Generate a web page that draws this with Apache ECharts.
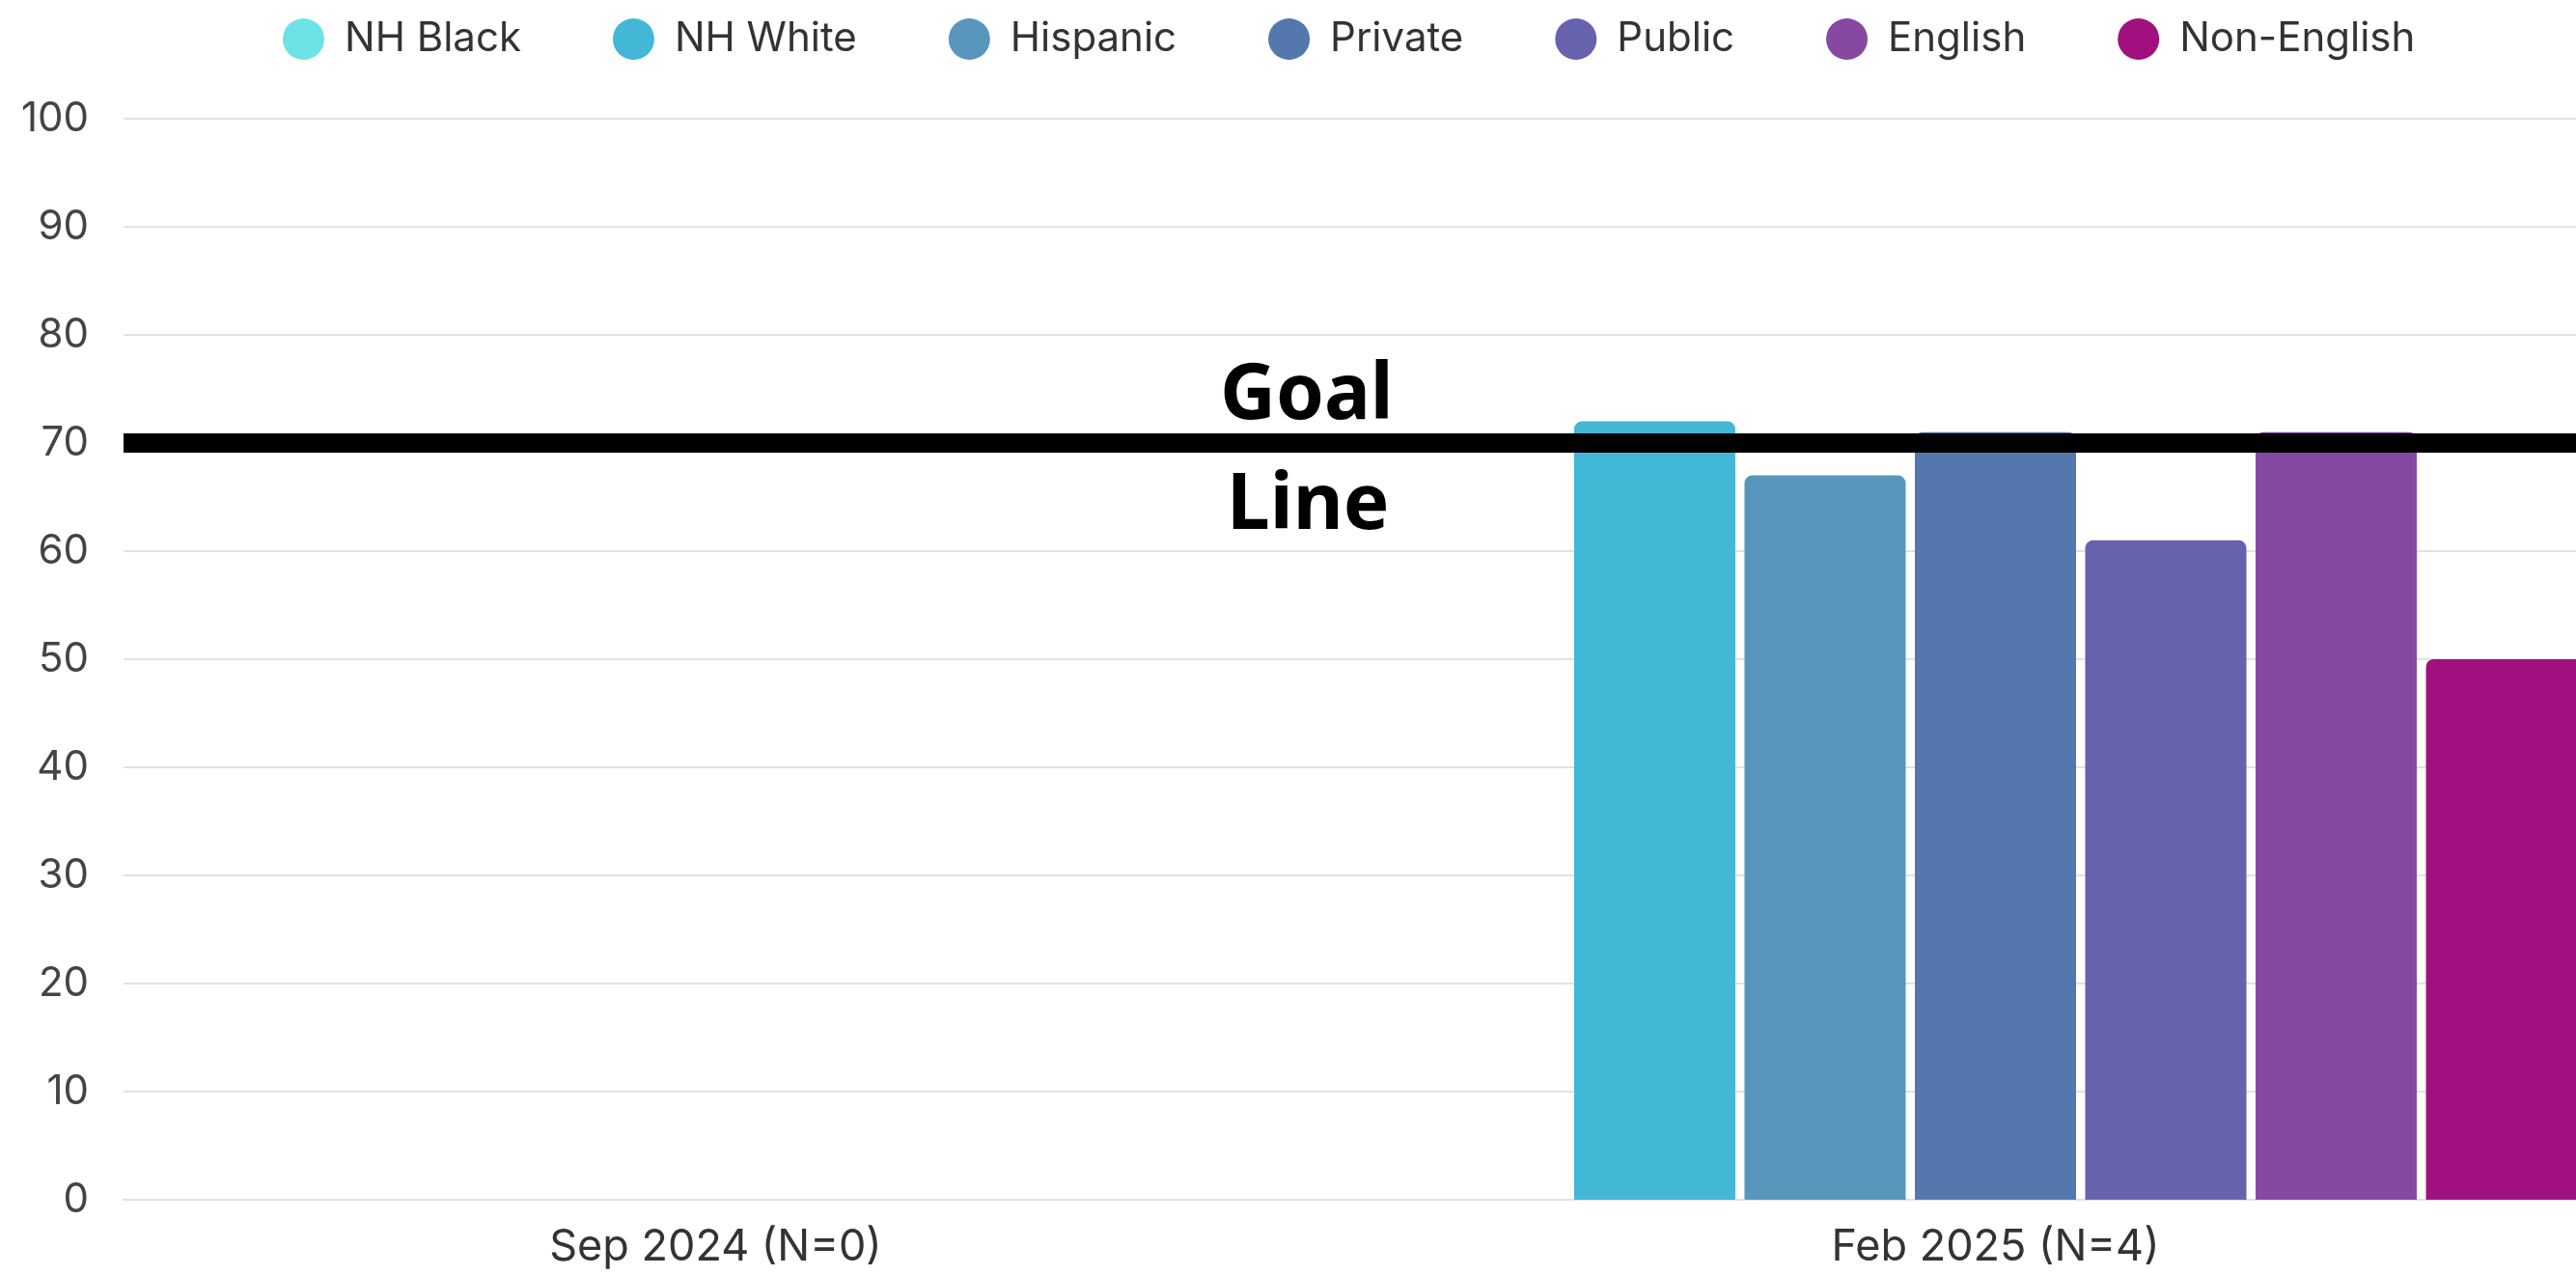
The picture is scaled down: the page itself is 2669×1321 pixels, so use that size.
<!DOCTYPE html>
<html>
<head>
<meta charset="utf-8">
<style>
  html, body { margin: 0; padding: 0; background: #ffffff; }
  #chart { width: 2669px; height: 1321px; }
</style>
<script src="https://cdn.jsdelivr.net/npm/echarts@6/dist/echarts.min.js"></script>
</head>
<body>
<div id="chart"></div>
<script>
// Survey waves on the x axis
const categories = ['Sep 2024 (N=0)', 'Feb 2025 (N=4)'];

// Percent per group and wave (null = no respondents)
const nhBlack    = [null, null];
const nhWhite    = [null, 72];
const hispanic   = [null, 67];
const privateIns = [null, 71];
const publicIns  = [null, 61];
const english    = [null, 71];
const nonEnglish = [null, 50];

const goalValue = 70;
const yTicks = { min: 0, max: 100, interval: 10 };

const seriesDefs = [
  { name: 'NH Black',    data: nhBlack,    color: '#6DE2E7' },
  { name: 'NH White',    data: nhWhite,    color: '#42B7D6' },
  { name: 'Hispanic',    data: hispanic,   color: '#5896BC' },
  { name: 'Private',     data: privateIns, color: '#5478AE' },
  { name: 'Public',      data: publicIns,  color: '#6762AD' },
  { name: 'English',     data: english,    color: '#8549A2' },
  { name: 'Non-English', data: nonEnglish, color: '#A0107E' }
];

const FONT = 'Inter, "Noto Sans", sans-serif';

const series = seriesDefs.map((s, i) => {
  const item = {
    name: s.name,
    type: 'bar',
    data: s.data,
    barWidth: 167,
    barGap: '5.7%',
    itemStyle: { color: s.color, borderRadius: [8, 8, 0, 0] }
  };
  if (i === seriesDefs.length - 1) {
    item.markLine = {
      silent: true,
      symbol: 'none',
      z: 10,
      lineStyle: { color: '#000000', width: 20, type: 'solid' },
      label: {
        fontFamily: '"Noto Sans", sans-serif',
        fontWeight: 'bold',
        fontSize: 80,
        lineHeight: 80,
        color: '#000000'
      },
      data: [
        { yAxis: goalValue, label: { show: true, position: 'insideStartTop', distance: [1136, 8], formatter: 'Goal' } },
        { yAxis: goalValue, label: { show: true, position: 'insideStartBottom', distance: [1143, 26], formatter: 'Line' } }
      ]
    };
  }
  return item;
});

const chart = echarts.init(document.getElementById('chart'), null, { renderer: 'canvas' });
chart.setOption({
  animation: false,
  backgroundColor: '#ffffff',
  color: seriesDefs.map(s => s.color),
  legend: {
    left: 288,
    top: 14,
    icon: 'circle',
    itemWidth: 43,
    itemHeight: 43,
    itemGap: 95,
    textStyle: { fontFamily: FONT, fontSize: 42, color: '#333333', padding: [0, 0, 0, 16] },
    data: seriesDefs.map(s => s.name)
  },
  // plot area runs past the right edge of the canvas
  grid: { left: 128, width: 2586, top: 123, height: 1120, containLabel: false, outerBoundsMode: 'none' },
  xAxis: {
    type: 'category',
    data: categories,
    axisTick: { show: false },
    axisLine: { lineStyle: { color: '#e2e2e2', width: 2 } },
    axisLabel: {
      fontFamily: FONT,
      fontSize: 45,
      color: '#333333',
      margin: 27,
      formatter: (v, i) => i === 0 ? '{first|' + v + '}' : v,
      rich: { first: { fontFamily: FONT, fontSize: 45, color: '#333333', padding: [0, 66, 0, 0] } }
    }
  },
  yAxis: {
    type: 'value',
    min: yTicks.min,
    max: yTicks.max,
    interval: yTicks.interval,
    axisLine: { show: false },
    axisTick: { show: false },
    splitLine: { lineStyle: { color: '#e2e2e2', width: 2 } },
    axisLabel: { fontFamily: FONT, fontSize: 42, color: '#444444', margin: 36 }
  },
  series: series
});
</script>
</body>
</html>
